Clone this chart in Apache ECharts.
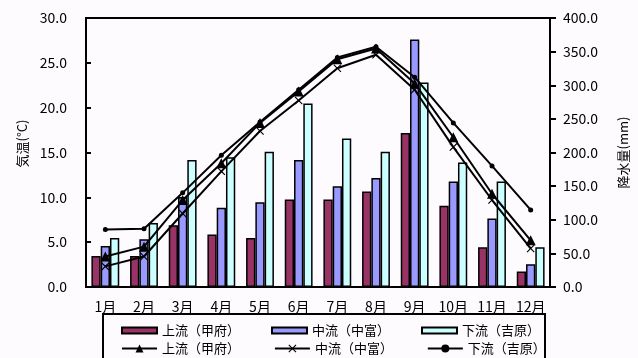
<!DOCTYPE html>
<html>
<head>
<meta charset="utf-8">
<script src="https://cdn.jsdelivr.net/npm/echarts@6/dist/echarts.min.js"></script>
<style>
  html, body { margin: 0; padding: 0; background: #fefbfe; }
  #chart { width: 638px; height: 358px; }
</style>
</head>
<body>
<div id="chart"></div>
<script>
  // 月
  var months = ['1月', '2月', '3月', '4月', '5月', '6月', '7月', '8月', '9月', '10月', '11月', '12月'];
  // 降水量(mm)
  var rainUpper = [46, 46, 92, 78, 73, 130, 130, 142, 229, 121, 59, 23];
  var rainMiddle = [61, 71, 134, 118, 126, 189, 150, 162, 368, 157, 102, 34];
  var rainLower = [73, 95, 189, 193, 201, 273, 221, 201, 304, 185, 157, 59];
  // 気温(°C)
  var tempUpper = [3.4, 4.5, 9.7, 13.8, 18.3, 21.8, 25.4, 26.6, 22.7, 16.7, 10.4, 5.2];
  var tempMiddle = [2.3, 3.4, 8.2, 12.9, 17.4, 20.8, 24.4, 25.9, 22.0, 15.6, 9.7, 4.3];
  var tempLower = [6.4, 6.5, 10.5, 14.7, 18.4, 22.0, 25.6, 26.8, 23.4, 18.3, 13.5, 8.6];

  var font = '"Noto Sans CJK JP", sans-serif';
  var crossSymbol = 'path://M0,1L1,0L5,4L9,0L10,1L6,5L10,9L9,10L5,6L1,10L0,9L4,5Z';

  var myChart = echarts.init(document.getElementById('chart'));

  function barSeries(name, data, color) {
    return {
      name: name,
      type: 'bar',
      yAxisIndex: 1,
      data: data,
      barGap: '0%',
      barCategoryGap: '28%',
      itemStyle: { color: color, borderColor: '#000', borderWidth: 1.5 }
    };
  }

  function lineSeries(name, data, symbol, size) {
    return {
      name: name,
      type: 'line',
      yAxisIndex: 0,
      data: data,
      symbol: symbol,
      symbolSize: size,
      z: 5,
      lineStyle: { color: '#000', width: 2 },
      itemStyle: { color: '#000' }
    };
  }

  myChart.setOption({
    backgroundColor: '#fefbfe',
    animation: false,
    textStyle: { fontFamily: font, color: '#000' },
    grid: {
      left: 86, right: 78, top: 18, bottom: 71,
      show: true, borderColor: '#000', borderWidth: 2
    },
    legend: [
      {
        data: ['上流（甲府）', '中流（中富）', '下流（吉原）'].map(function (n) { return { name: n, icon: 'rect' }; }),
        left: 116, top: 319,
        itemWidth: 35, itemHeight: 6, itemGap: 31,
        textStyle: { fontFamily: font, fontSize: 13, color: '#000' }
      },
      {
        data: ['上流（甲府） ', '中流（中富） ', '下流（吉原） '],
        left: 116, top: 337,
        itemWidth: 35, itemHeight: 10, itemGap: 31,
        textStyle: { fontFamily: font, fontSize: 13, color: '#000' }
      }
    ],
    graphic: [{
      type: 'rect',
      shape: { x: 103, y: 314, width: 442, height: 60 },
      style: { fill: 'none', stroke: '#000', lineWidth: 2 },
      z: -1
    }],
    xAxis: {
      type: 'category',
      data: months,
      axisLine: { lineStyle: { color: '#000', width: 2 } },
      axisTick: { inside: true, length: 4, lineStyle: { color: '#000', width: 2 } },
      axisLabel: { interval: 0, fontSize: 14, color: '#000', margin: 13, fontFamily: font }
    },
    yAxis: [
      {
        type: 'value',
        min: 0, max: 30, interval: 5,
        name: '気温(°C)',
        nameLocation: 'middle',
        nameGap: 57,
        nameTextStyle: { fontSize: 13, color: '#000', fontFamily: font, padding: [0, 0, 0, 18] },
        axisLine: { show: true, lineStyle: { color: '#000', width: 2 } },
        axisTick: { show: true, inside: true, length: 5, lineStyle: { color: '#000', width: 2 } },
        axisLabel: {
          fontSize: 14, color: '#000', margin: 19, fontFamily: font,
          formatter: function (v) { return v.toFixed(1); }
        },
        splitLine: { show: false }
      },
      {
        type: 'value',
        position: 'right',
        min: 0, max: 400, interval: 50,
        name: '降水量(mm)',
        nameLocation: 'middle',
        nameGap: 67,
        nameRotate: 90,
        nameTextStyle: { fontSize: 13, color: '#000', fontFamily: font },
        axisLine: { show: true, lineStyle: { color: '#000', width: 2 } },
        axisTick: { show: true, length: 6, lineStyle: { color: '#000', width: 2 } },
        axisLabel: {
          fontSize: 14, color: '#000', margin: 13, fontFamily: font,
          formatter: function (v) { return v.toFixed(1); }
        },
        splitLine: { show: false }
      }
    ],
    series: [
      barSeries('上流（甲府）', rainUpper, '#993366'),
      barSeries('中流（中富）', rainMiddle, '#9999ff'),
      barSeries('下流（吉原）', rainLower, '#ccffff'),
      lineSeries('上流（甲府） ', tempUpper, 'triangle', 10),
      lineSeries('中流（中富） ', tempMiddle, crossSymbol, 8),
      lineSeries('下流（吉原） ', tempLower, 'circle', 5)
    ]
  });
</script>
</body>
</html>
